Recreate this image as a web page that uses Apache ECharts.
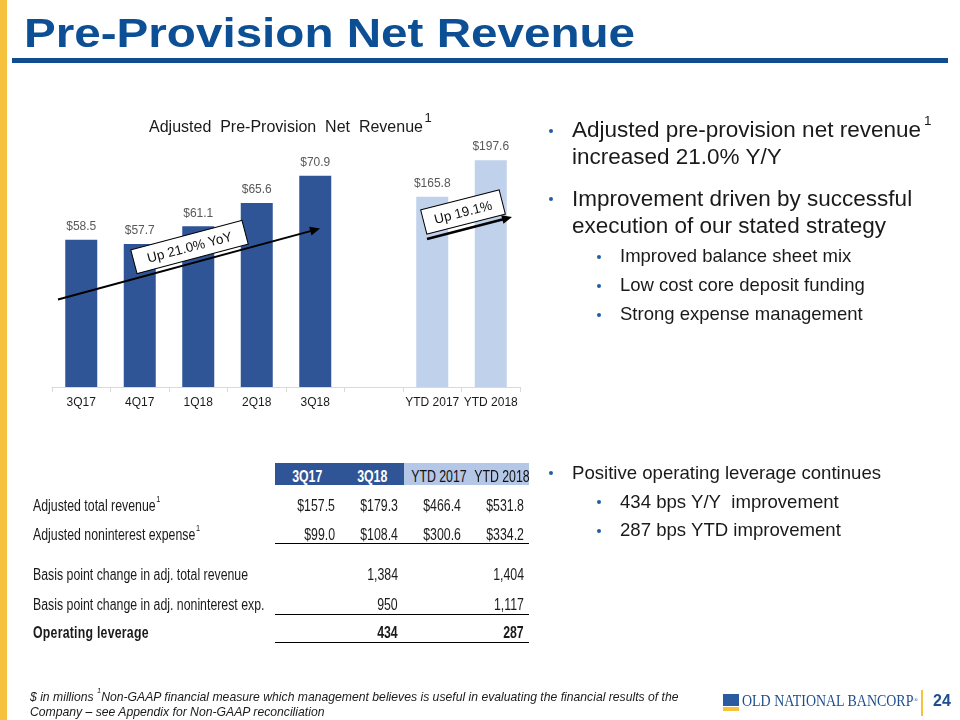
<!DOCTYPE html>
<html>
<head>
<meta charset="utf-8">
<script src="https://cdn.jsdelivr.net/npm/echarts@6/dist/echarts.min.js"></script>
<style>
html,body{margin:0;padding:0;width:960px;height:720px;overflow:hidden;background:#fff;}
#page{position:relative;width:960px;height:720px;font-family:'Liberation Sans',Arial,sans-serif;color:#1a1a1a;}
#chart{position:absolute;left:0;top:0;width:960px;height:720px;}
.t{position:absolute;white-space:nowrap;}
.sup{position:relative;font-size:0.6em;vertical-align:top;line-height:0;}
.box{position:absolute;}
.dot{position:absolute;border-radius:50%;background:#1f5fa0;}
</style>
</head>
<body>
<div id="page">
  <div class="box" style="left:0;top:0;width:7px;height:720px;background:#f6c23e;"></div>
  <div class="box" style="left:12px;top:58px;width:936px;height:5px;background:#0f4c92;"></div>
  <div id="chart"></div>
</div>
<script>
// ---------- data ----------
const categories = ['3Q17', '4Q17', '1Q18', '2Q18', '3Q18', '', 'YTD 2017', 'YTD 2018'];
const quarterlyValues = [58.5, 57.7, 61.1, 65.6, 70.9, null, null, null];
const ytdValues = [null, null, null, null, null, null, 165.8, 197.6];

const tableHeaders = ['3Q17', '3Q18', 'YTD 2017', 'YTD 2018'];
const adjTotalRevenue = [157.5, 179.3, 466.4, 531.8];
const adjNoninterestExpense = [99.0, 108.4, 300.6, 334.2];
const bpChangeRevenue = [null, 1384, null, 1404];
const bpChangeExpense = [null, 950, null, 1117];
const operatingLeverage = [null, 434, null, 287];

// ---------- text helpers ----------
const page = document.getElementById('page');
const NARROW = 0.77;
function put(html, x, base, fs, style, narrow, origin) {
  const d = document.createElement('div');
  d.className = 't';
  d.style.left = x + 'px';
  d.style.top = (base - 0.8465 * fs) + 'px';
  d.style.fontSize = fs + 'px';
  d.style.lineHeight = fs + 'px';
  if (narrow) { d.style.transform = 'scaleX(' + NARROW + ')'; d.style.transformOrigin = (origin || 'left') + ' center'; }
  Object.assign(d.style, style || {});
  d.innerHTML = html;
  page.appendChild(d);
  return d;
}
function putRight(html, right, base, fs, style, narrow) {
  const d = put(html, 0, base, fs, style, narrow, 'right');
  d.style.left = 'auto';
  d.style.right = (960 - right) + 'px';
  return d;
}
function dot(cx, cy, r) {
  const d = document.createElement('div');
  d.className = 'dot';
  d.style.left = (cx - r) + 'px';
  d.style.top = (cy - r) + 'px';
  d.style.width = (2 * r) + 'px';
  d.style.height = (2 * r) + 'px';
  page.appendChild(d);
}
function rect(x, y, w, h, color) {
  const d = document.createElement('div');
  d.className = 'box';
  Object.assign(d.style, {left: x + 'px', top: y + 'px', width: w + 'px', height: h + 'px', background: color});
  page.appendChild(d);
}

// ---------- title ----------
put('Pre-Provision Net Revenue', 24, 47, 40,
  {fontWeight: 'bold', color: '#0c4f95', transform: 'scaleX(1.19)', transformOrigin: 'left center'});

// ---------- bullets ----------
dot(551, 131, 2.3);
put('Adjusted pre-provision net revenue<span class="sup" style="top:2px;margin-left:3px">1</span>', 572, 138, 22.5);
put('increased 21.0% Y/Y', 572, 165, 22.5);
dot(551, 199, 2.3);
put('Improvement driven by successful', 572, 207, 22.5);
put('execution of our stated strategy', 572, 234, 22.5);
const subs1 = ['Improved balance sheet mix', 'Low cost core deposit funding', 'Strong expense management'];
subs1.forEach((s, i) => { dot(598.5, 257 + 29 * i, 2); put(s, 620, 263 + 29 * i, 18.5); });
dot(551, 473, 2.3);
put('Positive operating leverage continues', 572, 480, 18.6);
const subs2 = ['434 bps Y/Y&nbsp; improvement', '287 bps YTD improvement'];
subs2.forEach((s, i) => { dot(598.5, 502 + 28.5 * i, 2); put(s, 620, 508.5 + 28.5 * i, 18.6); });

// ---------- table ----------
const TF = 16;
const colL = [275, 339.5, 404, 466.5, 529];
rect(275, 463, 129, 22, '#2f5597');
rect(404, 463, 125, 22, '#b4c7e7');
tableHeaders.forEach((h, i) => {
  put(h, colL[i], 482.5, TF, {width: (colL[i + 1] - colL[i]) + 'px', textAlign: 'center',
    color: i < 2 ? '#ffffff' : '#111', fontWeight: i < 2 ? 'bold' : 'normal'}, true, 'center');
});
const valRight = [335, 398, 461, 524];
const fmtMoney = v => '$' + v.toFixed(1);
const fmtBp = v => v.toLocaleString('en-US');
const rows = [
  {label: 'Adjusted total revenue<span class="sup" style="top:1px;margin-left:1px">1</span>', vals: adjTotalRevenue, fmt: fmtMoney, base: 512},
  {label: 'Adjusted noninterest expense<span class="sup" style="top:1px;margin-left:1px">1</span>', vals: adjNoninterestExpense, fmt: fmtMoney, base: 541},
  {label: 'Basis point change in adj. total revenue', vals: bpChangeRevenue, fmt: fmtBp, base: 581},
  {label: 'Basis point change in adj. noninterest exp.', vals: bpChangeExpense, fmt: fmtBp, base: 611},
  {label: 'Operating leverage', vals: operatingLeverage, fmt: fmtBp, base: 638.5, bold: true}
];
rows.forEach(r => {
  const st = r.bold ? {fontWeight: 'bold', letterSpacing: '0.3px'} : {};
  put(r.label, 33, r.base, TF, st, true);
  r.vals.forEach((v, i) => { if (v !== null) putRight(r.fmt(v), valRight[i], r.base, TF, r.bold ? {fontWeight: 'bold'} : {}, true); });
});
[543, 614, 641.5].forEach(y => rect(275, y, 254, 1.2, '#000'));

// ---------- footer ----------
put('$ in millions <span class="sup" style="top:0px">1</span>Non-GAAP financial measure which management believes is useful in evaluating the financial results of the', 30, 701, 12.2, {fontStyle: 'italic'});
put('Company \u2013 see Appendix for Non-GAAP reconciliation', 30, 716, 12.2, {fontStyle: 'italic'});
rect(723, 694, 16, 12, '#2b5aa0');
rect(723, 707, 16, 4, '#f6c23e');
put('OLD NATIONAL BANCORP<span style="font-size:7px;vertical-align:top;">&reg;</span>', 742, 706.5, 17,
  {fontFamily: "'Liberation Serif','Times New Roman',serif", color: '#1f4e8c', transform: 'scaleX(0.82)', transformOrigin: 'left center'});
rect(921, 690, 2, 26, '#f6c23e');
put('24', 933, 706.5, 16, {fontWeight: 'bold', color: '#1f4e8c'});

// ---------- chart ----------
const chart = echarts.init(document.getElementById('chart'), null, {renderer: 'canvas'});
const sans = "'Liberation Sans',Arial,sans-serif";
const deg = Math.PI / 180;
function arrowHead(x, y, ang, len, hw) {
  const c = Math.cos(ang), s = Math.sin(ang);
  const bx = x - len * c, by = y - len * s;
  return [[x, y], [bx - hw * s, by + hw * c], [bx + hw * s, by - hw * c]];
}
const a1 = {x1: 58, y1: 299.5, x2: 320, y2: 228.5};
const a2 = {x1: 427, y1: 239, x2: 512, y2: 217};
const ang1 = Math.atan2(a1.y2 - a1.y1, a1.x2 - a1.x1);
const ang2 = Math.atan2(a2.y2 - a2.y1, a2.x2 - a2.x1);
function labelBox(cx, cy, w, h, rot, text) {
  return {
    type: 'group', x: cx, y: cy, rotation: rot * deg, z: 20,
    children: [
      {type: 'rect', z: 20, shape: {x: -w / 2, y: -h / 2, width: w, height: h},
       style: {fill: '#ffffff', stroke: '#000', lineWidth: 1}},
      {type: 'text', z: 21, x: 0, y: 1,
       style: {text: text, fill: '#111', fontSize: 13.5, fontFamily: sans,
               align: 'center', verticalAlign: 'middle', textAlign: 'center', textVerticalAlign: 'middle'}}
    ]
  };
}
chart.setOption({
  animation: false,
  grid: {left: 52, right: 440, top: 77, bottom: 333, containLabel: false},
  xAxis: {
    type: 'category', data: categories,
    axisLine: {lineStyle: {color: '#d9d9d9', width: 1}},
    axisTick: {show: true, interval: 0, length: 5, lineStyle: {color: '#d9d9d9'}},
    axisLabel: {color: '#1a1a1a', fontSize: 12, fontFamily: sans, margin: 10, interval: 0}
  },
  yAxis: [
    {type: 'value', min: 30, max: 90, show: false},
    {type: 'value', min: 0, max: 270, show: false}
  ],
  series: [
    {type: 'bar', data: quarterlyValues, yAxisIndex: 0, barWidth: 32, barGap: '-100%',
     itemStyle: {color: '#2f5597'},
     label: {show: true, position: 'top', distance: 7, color: '#595959', fontSize: 12, fontFamily: sans,
             formatter: p => '$' + Number(p.value).toFixed(1)}},
    {type: 'bar', data: ytdValues, yAxisIndex: 1, barWidth: 32, barGap: '-100%',
     itemStyle: {color: '#bfd1eb'},
     label: {show: true, position: 'top', distance: 7, color: '#595959', fontSize: 12, fontFamily: sans,
             formatter: p => '$' + Number(p.value).toFixed(1)}}
  ],
  graphic: [
    {type: 'text', x: 286, y: 128, z: 10,
     style: {text: 'Adjusted  Pre-Provision  Net  Revenue', fill: '#1a1a1a', fontSize: 16,
             fontFamily: sans, align: 'center', verticalAlign: 'middle',
             textAlign: 'center', textVerticalAlign: 'middle'}},
    {type: 'text', x: 428, y: 118, z: 10,
     style: {text: '1', fill: '#1a1a1a', fontSize: 13, fontFamily: sans,
             align: 'center', verticalAlign: 'middle', textAlign: 'center', textVerticalAlign: 'middle'}},
    {type: 'line', z: 15, shape: {x1: a1.x1, y1: a1.y1, x2: a1.x2 - 8 * Math.cos(ang1), y2: a1.y2 - 8 * Math.sin(ang1)},
     style: {stroke: '#000', lineWidth: 2}},
    {type: 'polygon', z: 15, shape: {points: arrowHead(a1.x2, a1.y2, ang1, 10, 4.5)}, style: {fill: '#000'}},
    {type: 'line', z: 15, shape: {x1: a2.x1, y1: a2.y1, x2: a2.x2 - 8 * Math.cos(ang2), y2: a2.y2 - 8 * Math.sin(ang2)},
     style: {stroke: '#000', lineWidth: 2.5}},
    {type: 'polygon', z: 15, shape: {points: arrowHead(a2.x2, a2.y2, ang2, 10, 4.5)}, style: {fill: '#000'}},
    labelBox(189.5, 247, 115, 24.5, 14.8, 'Up 21.0% YoY'),
    labelBox(463, 212, 81, 25, 14.3, 'Up 19.1%')
  ]
});
</script>
</body>
</html>
